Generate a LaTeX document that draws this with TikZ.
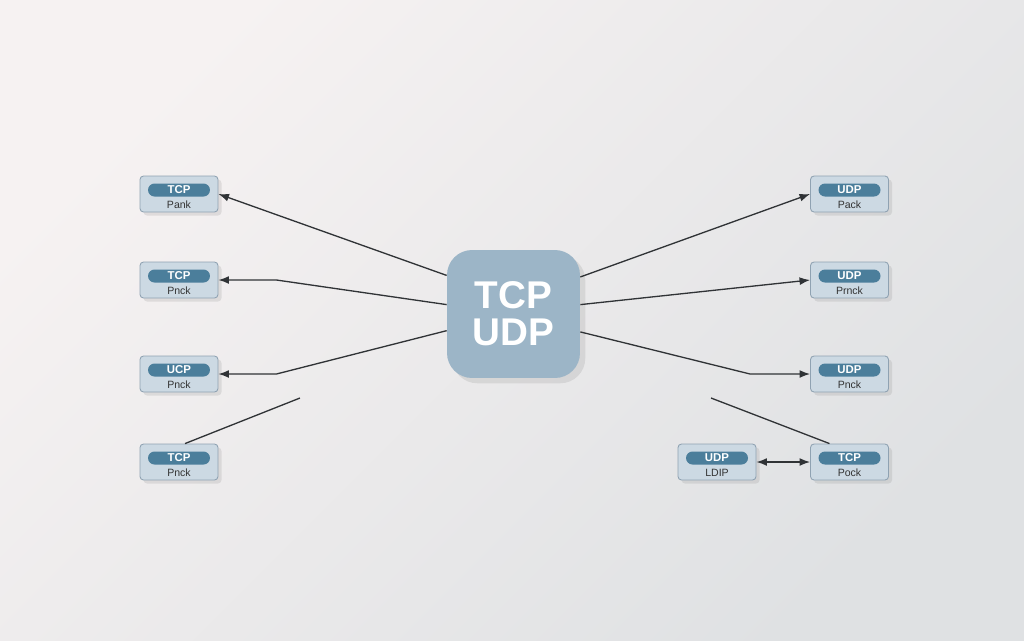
\documentclass[tikz,border=0pt]{standalone}
\usepackage{fontspec}
\setmainfont{Liberation Sans}
\usetikzlibrary{calc,shadows,arrows.meta}

\definecolor{bgA}{HTML}{F6F2F2}
\definecolor{bgB}{HTML}{DFE1E3}
\definecolor{hubblue}{HTML}{9CB5C7}
\definecolor{boxfill}{HTML}{CCD9E3}
\definecolor{boxline}{HTML}{8FA2B2}
\definecolor{pillblue}{HTML}{4B7E9B}
\definecolor{wirecol}{HTML}{303336}

% packet box: name, x, y, top label, bottom label
\newcommand\pkt[5]{%
  \node[pktbox] (#1) at (#2,#3) {};
  \node[pill] (#1-t) at ($(#1.center)+(0,-4)$) {#4};
  \node[pktsub] (#1-b) at ($(#1.center)+(0,11)$) {#5};
}

\begin{document}
\begin{tikzpicture}[>={Latex[length=6pt,width=4.5pt]}, x=0.02cm, y=-0.02cm,
    wire/.style={draw=wirecol, line width=0.75pt},
    hub/.style={fill=hubblue, rounded corners=0.5cm, minimum width=2.66cm,
      minimum height=2.56cm, text=white, align=center,
      font=\fontsize{22}{21}\selectfont\bfseries,
      drop shadow={opacity=0.18, shadow xshift=3pt, shadow yshift=-3pt}},
    pktbox/.style={fill=boxfill, draw=boxline, line width=0.5pt, rounded corners=2pt,
      minimum width=1.56cm, minimum height=0.72cm,
      drop shadow={opacity=0.18, shadow xshift=2pt, shadow yshift=-2pt}},
    pill/.style={fill=pillblue, rounded corners=0.13cm, minimum width=1.24cm,
      minimum height=0.26cm, inner sep=0pt, text=white,
      font=\fontsize{6.5}{7}\selectfont\bfseries},
    pktsub/.style={inner sep=0pt, text=black!80, font=\fontsize{6}{7}\selectfont}]
  \useasboundingbox (0,0) rectangle (1024,640);
  \shade[top color=bgA, bottom color=bgB, shading angle=45] (0,0) rectangle (1024,640);

  % centre
  \node[hub] (hub) at (513.5,314) {TCP\\UDP};

  % left column
  \pkt{l1}{179}{194}{TCP}{Pank}
  \pkt{l2}{179}{280}{TCP}{Pnck}
  \pkt{l3}{179}{374}{UCP}{Pnck}
  \pkt{l4}{179}{462}{TCP}{Pnck}

  % right column
  \pkt{r1}{849.5}{194}{UDP}{Pack}
  \pkt{r2}{849.5}{280}{UDP}{Prnck}
  \pkt{r3}{849.5}{374}{UDP}{Pnck}
  \pkt{r4}{849.5}{462}{TCP}{Pock}
  \pkt{ex}{717}{462}{UDP}{LDIP}

  \coordinate (l4end) at (300,398);
  \coordinate (r4end) at (711,398);

  \draw[wire, ->] (hub.150.3) -- (l1.east);
  \draw[wire, ->] (hub.172.3) -- ($(l2.east)+(58,0)$) -- (l2.east);
  \draw[wire, ->] (hub.194.3) -- ($(l3.east)+(58,0)$) -- (l3.east);
  \draw[wire] ($(l4.north)+(6,0)$) -- (l4end);

  \draw[wire, ->] (hub.29.7) -- (r1.west);
  \draw[wire, ->] (hub.8.6) -- (r2.west);
  \draw[wire, ->] (hub.345.7) -- ($(r3.west)+(-60,0)$) -- (r3.west);
  \draw[wire] ($(r4.north)+(-20,0)$) -- (r4end);
  \draw[wire, <->] (ex.east) -- (r4.west);
\end{tikzpicture}
\end{document}
